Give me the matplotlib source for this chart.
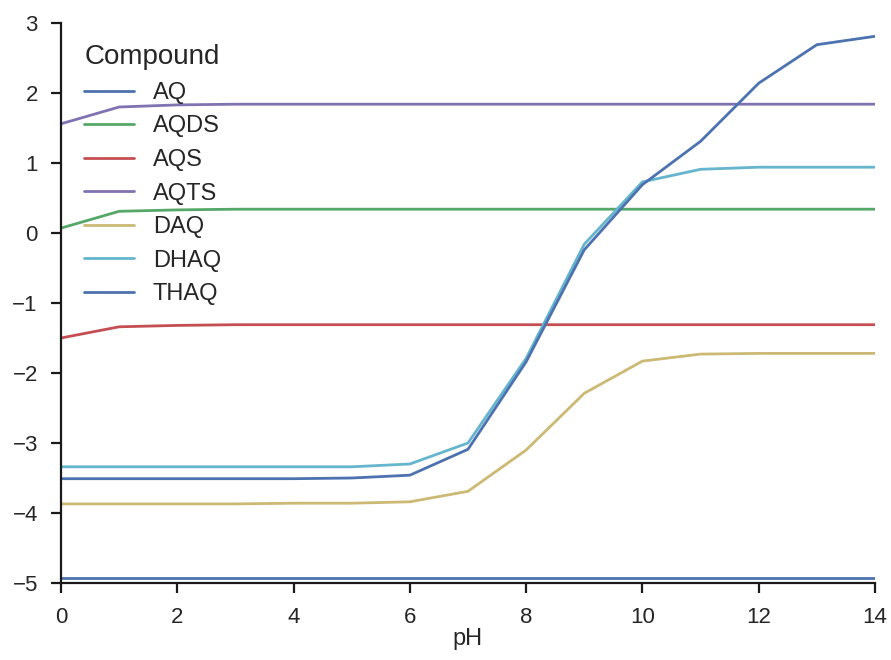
import matplotlib
matplotlib.use("Agg")
import matplotlib.pyplot as plt
import seaborn as sns

sns.set_style("ticks")
plt.rcParams['font.family'] = ['Arial', 'Liberation Sans', 'DejaVu Sans']

ph = list(range(15))
AQ   = [-4.93] * 15
AQDS = [0.07, 0.31, 0.33, 0.34, 0.34, 0.34, 0.34, 0.34, 0.34, 0.34, 0.34, 0.34, 0.34, 0.34, 0.34]
AQS  = [-1.50, -1.34, -1.32, -1.31, -1.31, -1.31, -1.31, -1.31, -1.31, -1.31, -1.31, -1.31, -1.31, -1.31, -1.31]
AQTS = [1.56, 1.80, 1.83, 1.84, 1.84, 1.84, 1.84, 1.84, 1.84, 1.84, 1.84, 1.84, 1.84, 1.84, 1.84]
DAQ  = [-3.87, -3.87, -3.87, -3.87, -3.86, -3.86, -3.84, -3.69, -3.10, -2.29, -1.83, -1.73, -1.72, -1.72, -1.72]
DHAQ = [-3.34, -3.34, -3.34, -3.34, -3.34, -3.34, -3.30, -3.00, -1.79, -0.16, 0.73, 0.91, 0.94, 0.94, 0.94]
THAQ = [-3.51, -3.51, -3.51, -3.51, -3.51, -3.50, -3.46, -3.09, -1.84, -0.24, 0.69, 1.31, 2.14, 2.69, 2.81]

series = {"AQ": AQ, "AQDS": AQDS, "AQS": AQS, "AQTS": AQTS,
          "DAQ": DAQ, "DHAQ": DHAQ, "THAQ": THAQ}
colors = ["#4C72B0", "#55A868", "#C44E52", "#8172B2", "#CCB974", "#64B5CD", "#4C72B0"]

fig = plt.figure(figsize=(8.91, 6.6), dpi=100)
ax = fig.add_axes([61/891, 1 - 583/660, (875-61)/891, (583-23)/660])
for (name, vals), c in zip(series.items(), colors):
    ax.plot(ph, vals, color=c, lw=2.0, label=name)

ax.set_xlim(0, 14)
ax.set_ylim(-5, 3)
ax.set_xticks(range(0, 15, 2))
ax.set_yticks(range(-5, 4))
sns.despine(ax=ax)
for s in ["left", "bottom"]:
    ax.spines[s].set_linewidth(1.6)
    ax.spines[s].set_color("#1a1a1a")
ax.tick_params(axis="both", which="major", labelsize=16, length=7.2, width=1.6,
               color="#1a1a1a", labelcolor="#262626",
               direction="out", bottom=True, left=True)
ax.tick_params(axis="x", pad=9.8)
ax.tick_params(axis="y", pad=9.5)
ax.set_xlabel("pH", fontsize=17, color="#262626", labelpad=0)
leg = ax.legend(title="Compound", loc="upper left", frameon=False, fontsize=17,
                title_fontsize=20, handlelength=2.1, handletextpad=0.8,
                bbox_to_anchor=(0.0025, 1.0), labelspacing=0.49)
fig.savefig("out.png", dpi=100)
